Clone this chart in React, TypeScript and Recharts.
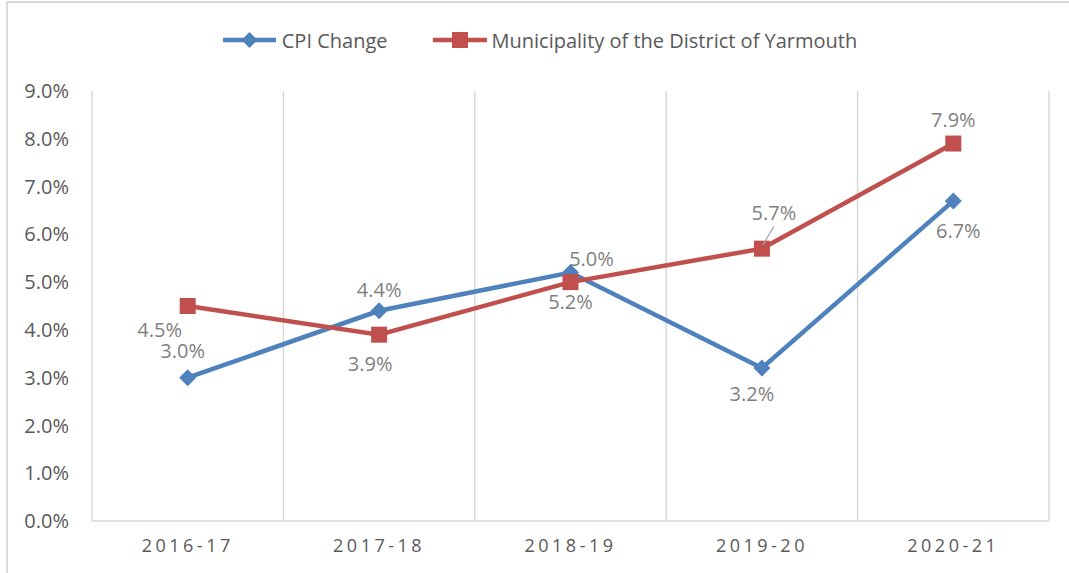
import React from 'react';
import { LineChart, Line, XAxis, YAxis, CartesianGrid, Legend, LabelList } from 'recharts';

const categories = ['2016-17', '2017-18', '2018-19', '2019-20', '2020-21'];
const cpiChange = [3.0, 4.4, 5.2, 3.2, 6.7];
const yarmouth = [4.5, 3.9, 5.0, 5.7, 7.9];
const yTicks = [0, 1, 2, 3, 4, 5, 6, 7, 8, 9];
const seriesNames = ['CPI Change', 'Municipality of the District of Yarmouth'];

// label placement relative to point (dx, dy)
const cpiLabelOffsets = [[-5, -27], [0, -21], [0, 29], [-10, 25], [5, 30]];
const yarLabelOffsets = [[-28, 23], [-9, 29], [21, -24], [12, -36], [0, -24]];

const data = categories.map((c, i) => ({ cat: c, cpi: cpiChange[i], yar: yarmouth[i] }));

const BLUE = '#4f81bd';
const RED = '#c0504d';
const FONT = '"Open Sans", sans-serif';

const Diamond = (p: any) => {
  const { cx, cy, index } = p;
  const r = 8.5;
  return <path key={`dm-${index}`} d={`M${cx},${cy - r}L${cx + r},${cy}L${cx},${cy + r}L${cx - r},${cy}Z`} fill={BLUE} stroke="none" />;
};
const Square = (p: any) => {
  const { cx, cy, index } = p;
  const s = 16;
  return <rect key={`sq-${index}`} x={cx - s / 2} y={cy - s / 2} width={s} height={s} fill={RED} stroke="none" />;
};

const makeLabel = (offsets: number[][], leader?: number) => (p: any) => {
  const { x, y, value, index } = p;
  const [dx, dy] = offsets[index] || [0, 0];
  return (
    <g key={`lb-${index}`}>
      {leader === index && (
        <line x1={x + 1} y1={y - 4} x2={x + dx} y2={y + dy + 14} stroke="#a6a6a6" strokeWidth={1.2} />
      )}
      <text x={x + dx} y={y + dy} textAnchor="middle" dominantBaseline="central" fill="#7f7f7f" fontSize={20} fontFamily={FONT}>
        {Number(value).toFixed(1)}%
      </text>
    </g>
  );
};

const LegendContent = () => (
  <div style={{ display: 'flex', justifyContent: 'center', alignItems: 'center', height: 30, fontFamily: FONT, fontSize: 20, color: '#595959' }}>
    <svg width={53} height={20} style={{ marginRight: 6 }}>
      <line x1={0} y1={10} x2={53} y2={10} stroke={BLUE} strokeWidth={4.5} />
      <path d="M26.5,2L34.5,10L26.5,18L18.5,10Z" fill={BLUE} />
    </svg>
    <span>{seriesNames[0]}</span>
    <svg width={54} height={20} style={{ marginLeft: 45, marginRight: 5 }}>
      <line x1={0} y1={10} x2={54} y2={10} stroke={RED} strokeWidth={4.5} />
      <rect x={19} y={2} width={16} height={16} fill={RED} />
    </svg>
    <span>{seriesNames[1]}</span>
  </div>
);

export default function App() {
  return (
    <>
      <div style={{ position: 'fixed', left: 0, top: 0, width: 1069, height: 573, background: '#fff' }}>
        <LineChart width={1069} height={573} data={data} margin={{ top: 61, right: 20, bottom: 0, left: 0 }}>
          <CartesianGrid
            horizontal={false}
            stroke="#d9d9d9"
            strokeWidth={1.5}
            verticalCoordinatesGenerator={({ offset }: any) =>
              [0, 1, 2, 3, 4, 5].map((i) => offset.left + (i * offset.width) / categories.length)
            }
          />
          <XAxis
            dataKey="cat"
            scale="band"
            axisLine={{ stroke: '#d9d9d9', strokeWidth: 1.5 }}
            tickLine={false}
            tickSize={6}
            tickMargin={12}
            height={52}
            tick={{ fill: '#595959', fontSize: 18, fontFamily: FONT, letterSpacing: 3.5 }}
          />
          <YAxis
            domain={[0, 9]}
            ticks={yTicks}
            interval={0}
            axisLine={false}
            tickLine={false}
            width={92}
            tickSize={6}
            tickMargin={17}
            tickFormatter={(v: number) => `${v.toFixed(1)}%`}
            tick={{ fill: '#595959', fontSize: 20, fontFamily: FONT }}
          />
          <Legend verticalAlign="top" wrapperStyle={{ top: 25, left: 20, width: 1040 }} content={() => <LegendContent />} />
          <Line dataKey="cpi" name={seriesNames[0]} stroke={BLUE} strokeWidth={4.5} dot={Diamond} activeDot={false} isAnimationActive={false}>
            <LabelList dataKey="cpi" content={makeLabel(cpiLabelOffsets)} />
          </Line>
          <Line dataKey="yar" name={seriesNames[1]} stroke={RED} strokeWidth={4.5} dot={Square} activeDot={false} isAnimationActive={false}>
            <LabelList dataKey="yar" content={makeLabel(yarLabelOffsets, 3)} />
          </Line>
        </LineChart>
      </div>
      <div style={{ position: 'fixed', left: 6, top: 1, width: 1100, height: 620, border: '2px solid #d9d9d9', pointerEvents: 'none' }} />
    </>
  );
}
